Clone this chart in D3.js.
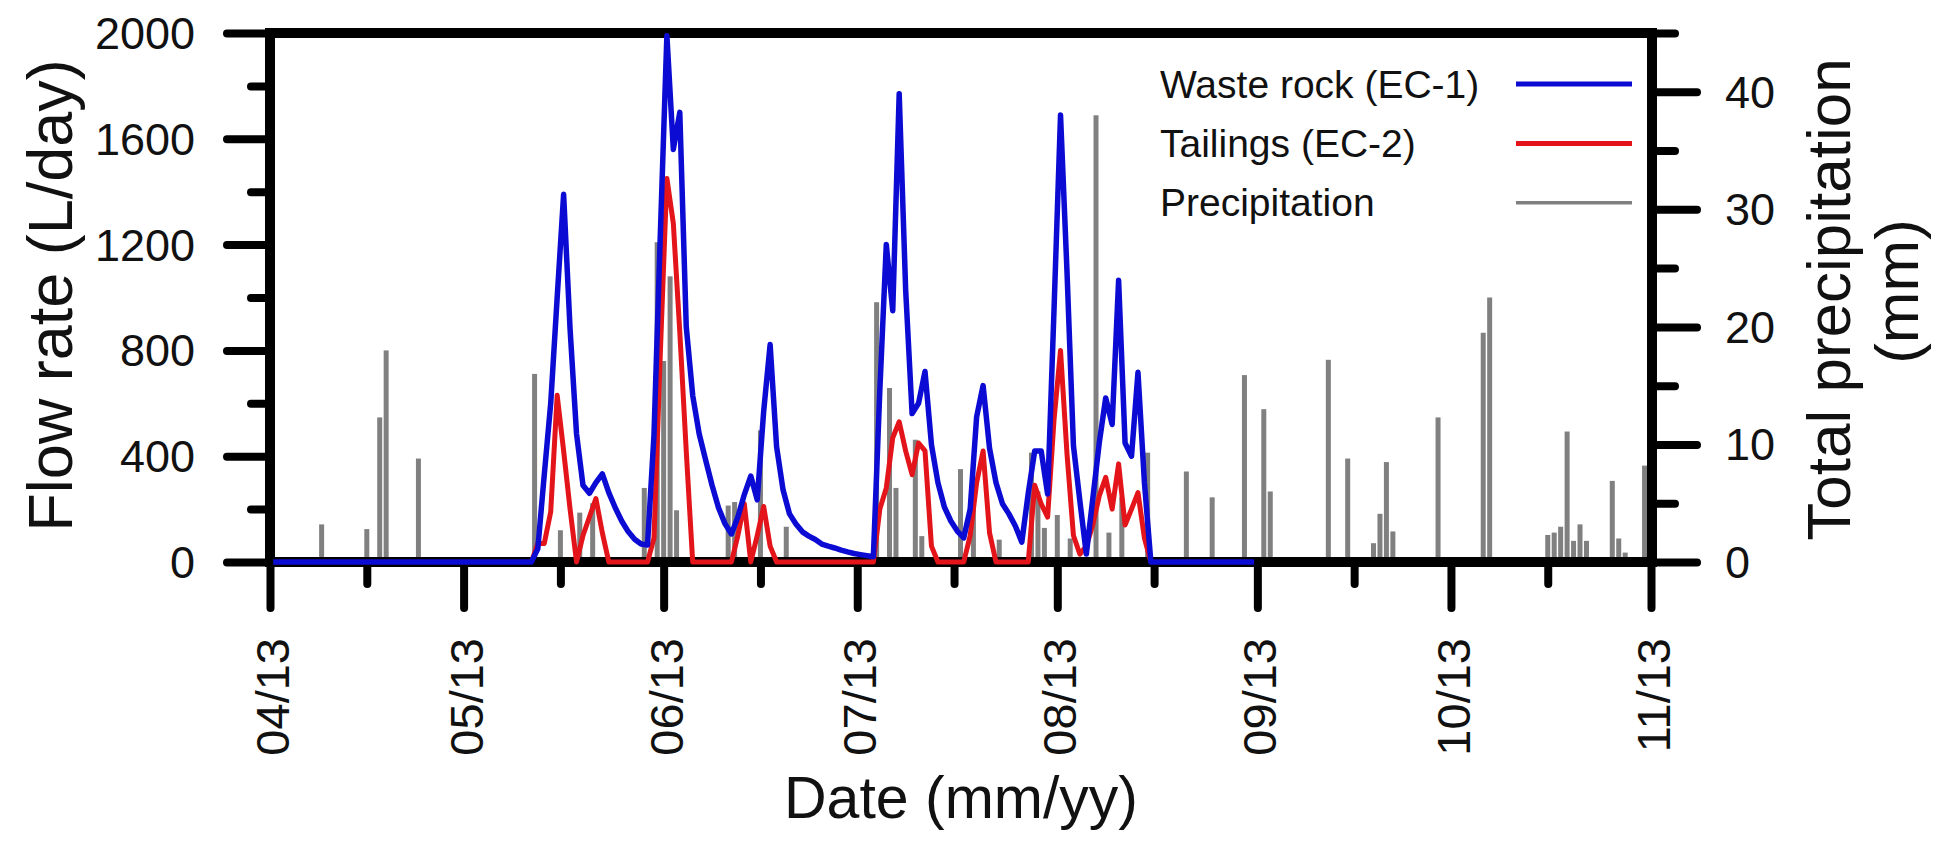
<!DOCTYPE html>
<html>
<head>
<meta charset="utf-8">
<script src="https://cdn.jsdelivr.net/npm/d3@7"></script>
<style>
  html, body { margin: 0; padding: 0; background: #fff; }
  svg { display: block; }
  text { font-family: "Liberation Sans", Arial, Helvetica, sans-serif; fill: #111; }
</style>
</head>
<body>
<svg id="chart" width="1950" height="844"></svg>
<script>
// ---- data -------------------------------------------------------------

// Daily total precipitation (mm)
const precipDates = [
  "2013-04-09","2013-04-14","2013-04-16","2013-04-18","2013-04-19","2013-04-24",
  "2013-05-12","2013-05-16","2013-05-19","2013-05-21","2013-05-29","2013-05-31",
  "2013-06-01","2013-06-02","2013-06-03","2013-06-11","2013-06-12","2013-06-16","2013-06-20",
  "2013-07-04","2013-07-06","2013-07-07","2013-07-10","2013-07-11","2013-07-17","2013-07-19",
  "2013-07-23","2013-07-28","2013-07-29","2013-07-30",
  "2013-08-01","2013-08-03","2013-08-07","2013-08-09","2013-08-11","2013-08-15","2013-08-21",
  "2013-08-25","2013-08-30",
  "2013-09-02","2013-09-03","2013-09-12","2013-09-15","2013-09-19","2013-09-20","2013-09-21",
  "2013-09-22","2013-09-29",
  "2013-10-06","2013-10-07","2013-10-16","2013-10-17","2013-10-18","2013-10-19","2013-10-20",
  "2013-10-21","2013-10-22","2013-10-26","2013-10-27","2013-10-28","2013-10-31"
];
const precipMm = [
  3.2, 0.3, 2.8, 12.3, 18.0, 8.8,
  16.0, 2.7, 4.2, 5.0, 6.3, 27.2,
  17.1, 24.3, 4.4, 4.8, 5.1, 11.2, 3.0,
  22.1, 14.8, 6.3, 10.4, 2.2, 7.9, 5.5,
  1.9, 9.3, 6.0, 2.9,
  4.0, 2.0, 38.0, 2.5, 5.5, 9.3, 7.7,
  5.5, 15.9,
  13.0, 6.0, 17.2, 8.8, 1.6, 4.1, 8.5,
  2.6, 12.3,
  19.5, 22.5, 2.3, 2.5, 3.0, 11.1, 1.8,
  3.2, 1.8, 6.9, 2.0, 0.8, 8.2
];

// Daily outflow, waste rock cell EC-1 (L/day)
const wasteRockFlow = [
  ["2013-04-01",0],["2013-05-11",0],["2013-05-12",50],["2013-05-13",330],["2013-05-14",600],
  ["2013-05-15",1000],["2013-05-16",1390],["2013-05-17",880],["2013-05-18",485],["2013-05-19",290],
  ["2013-05-20",260],["2013-05-21",300],["2013-05-22",333],["2013-05-23",262],["2013-05-24",205],
  ["2013-05-25",155],["2013-05-26",115],["2013-05-27",86],["2013-05-28",68],["2013-05-29",64],
  ["2013-05-30",480],["2013-05-31",1250],["2013-06-01",1990],["2013-06-02",1560],["2013-06-03",1700],
  ["2013-06-04",890],["2013-06-05",630],["2013-06-06",485],["2013-06-07",386],["2013-06-08",290],
  ["2013-06-09",205],["2013-06-10",145],["2013-06-11",106],["2013-06-12",170],["2013-06-13",255],
  ["2013-06-14",325],["2013-06-15",235],["2013-06-16",570],["2013-06-17",822],["2013-06-18",436],
  ["2013-06-19",273],["2013-06-20",182],["2013-06-21",144],["2013-06-22",114],["2013-06-23",98],
  ["2013-06-24",85],["2013-06-25",68],["2013-06-26",60],["2013-06-27",53],["2013-06-28",45],
  ["2013-06-29",38],["2013-06-30",32],["2013-07-01",28],["2013-07-02",24],["2013-07-03",20],
  ["2013-07-04",650],["2013-07-05",1200],["2013-07-06",950],["2013-07-07",1770],["2013-07-08",1030],
  ["2013-07-09",561],["2013-07-10",600],["2013-07-11",720],["2013-07-12",443],["2013-07-13",300],
  ["2013-07-14",208],["2013-07-15",155],["2013-07-16",117],["2013-07-17",91],["2013-07-18",200],
  ["2013-07-19",549],["2013-07-20",667],["2013-07-21",430],["2013-07-22",300],["2013-07-23",220],
  ["2013-07-24",182],["2013-07-25",136],["2013-07-26",75],["2013-07-27",260],["2013-07-28",420],
  ["2013-07-29",420],["2013-07-30",257],["2013-07-31",960],["2013-08-01",1690],["2013-08-02",1100],
  ["2013-08-03",440],["2013-08-04",230],["2013-08-05",30],["2013-08-06",240],["2013-08-07",450],
  ["2013-08-08",620],["2013-08-09",520],["2013-08-10",1065],["2013-08-11",450],["2013-08-12",400],
  ["2013-08-13",717],["2013-08-14",300],["2013-08-15",0],["2013-08-31",0]
];

// Daily outflow, tailings cell EC-2 (L/day)
const tailingsFlow = [
  ["2013-05-11",0],["2013-05-12",70],["2013-05-13",70],["2013-05-14",190],["2013-05-15",630],
  ["2013-05-16",420],["2013-05-17",200],["2013-05-18",0],["2013-05-19",100],["2013-05-20",170],
  ["2013-05-21",240],["2013-05-22",110],["2013-05-23",0],["2013-05-29",0],["2013-05-30",90],
  ["2013-05-31",800],["2013-06-01",1450],["2013-06-02",1280],["2013-06-03",870],["2013-06-04",420],
  ["2013-06-05",0],["2013-06-11",0],["2013-06-12",100],["2013-06-13",220],["2013-06-14",0],
  ["2013-06-15",100],["2013-06-16",210],["2013-06-17",60],["2013-06-18",0],["2013-07-03",0],
  ["2013-07-04",200],["2013-07-05",280],["2013-07-06",470],["2013-07-07",530],["2013-07-08",420],
  ["2013-07-09",330],["2013-07-10",450],["2013-07-11",420],["2013-07-12",60],["2013-07-13",0],
  ["2013-07-17",0],["2013-07-18",100],["2013-07-19",300],["2013-07-20",420],["2013-07-21",110],
  ["2013-07-22",0],["2013-07-27",0],["2013-07-28",290],["2013-07-29",220],["2013-07-30",170],
  ["2013-07-31",540],["2013-08-01",800],["2013-08-02",410],["2013-08-03",100],["2013-08-04",30],
  ["2013-08-05",60],["2013-08-06",140],["2013-08-07",250],["2013-08-08",320],["2013-08-09",200],
  ["2013-08-10",371],["2013-08-11",140],["2013-08-12",200],["2013-08-13",262],["2013-08-14",90],
  ["2013-08-15",0]
];

// Axis ticks
const monthTicks = ["2013-04-01","2013-05-01","2013-06-01","2013-07-01","2013-08-01",
                    "2013-09-01","2013-10-01","2013-11-01"];
const midMonthTicks = ["2013-04-16","2013-05-16","2013-06-16","2013-07-16","2013-08-16",
                       "2013-09-16","2013-10-16"];
const flowMajorTicks = [0, 400, 800, 1200, 1600, 2000];
const flowMinorTicks = [200, 600, 1000, 1400, 1800];
const precipMajorTicks = [0, 10, 20, 30, 40];
const precipMinorTicks = [5, 15, 25, 35, 45];

const legendItems = [
  { label: "Waste rock (EC-1)", color: "#0b0bd4", width: 5 },
  { label: "Tailings (EC-2)",   color: "#e3141a", width: 5 },
  { label: "Precipitation",     color: "#808080", width: 3.5 }
];

// ---- drawing ------------------------------------------------------------

const parse = d3.timeParse("%Y-%m-%d");
const svg = d3.select("#chart");

const plot = { left: 270, right: 1652, top: 33, bottom: 562 };

const x = d3.scaleTime()
  .domain([parse("2013-04-01"), parse("2013-11-01")])
  .range([plot.left, 1651]);
const yFlow = d3.scaleLinear().domain([0, 2000]).range([plot.bottom, plot.top]);
const yPrecip = d3.scaleLinear().domain([0, 45]).range([plot.bottom, plot.top]);

// readings are daily means, plotted at midday
const midday = s => d3.timeHour.offset(parse(s), 12);

// precipitation bars
const barW = 5;
svg.append("g")
  .selectAll("rect")
  .data(precipDates.map((d, i) => ({ date: parse(d), v: precipMm[i] })))
  .join("rect")
  .attr("x", d => x(d.date) - barW / 2)
  .attr("y", d => yPrecip(d.v))
  .attr("width", barW)
  .attr("height", d => yPrecip(0) - yPrecip(d.v))
  .attr("fill", "#808080");

// axes: ticks only, frame drawn separately
function styleTicks(g) {
  g.select(".domain").remove();
  g.selectAll(".tick line")
    .attr("stroke", "#000")
    .attr("stroke-width", 8)
    .attr("stroke-linecap", "round");
  g.selectAll(".tick text").remove();
}

svg.append("g").attr("transform", `translate(0,${plot.bottom})`)
  .call(d3.axisBottom(x).tickValues(monthTicks.map(parse)).tickSize(46).tickFormat(""))
  .call(styleTicks);
svg.append("g").attr("transform", `translate(0,${plot.bottom})`)
  .call(d3.axisBottom(x).tickValues(midMonthTicks.map(parse)).tickSize(22).tickFormat(""))
  .call(styleTicks);

svg.append("g").attr("transform", `translate(${plot.left},0)`)
  .call(d3.axisLeft(yFlow).tickValues(flowMajorTicks).tickSize(43).tickFormat(""))
  .call(styleTicks);
svg.append("g").attr("transform", `translate(${plot.left},0)`)
  .call(d3.axisLeft(yFlow).tickValues(flowMinorTicks).tickSize(19).tickFormat(""))
  .call(styleTicks);

svg.append("g").attr("transform", `translate(${plot.right},0)`)
  .call(d3.axisRight(yPrecip).tickValues(precipMajorTicks).tickSize(45).tickFormat(""))
  .call(styleTicks);
svg.append("g").attr("transform", `translate(${plot.right},0)`)
  .call(d3.axisRight(yPrecip).tickValues(precipMinorTicks).tickSize(23).tickFormat(""))
  .call(styleTicks);

// frame
svg.append("rect")
  .attr("x", plot.left).attr("y", plot.top)
  .attr("width", plot.right - plot.left).attr("height", plot.bottom - plot.top)
  .attr("fill", "none").attr("stroke", "#000").attr("stroke-width", 10);

// flow lines
const line = d3.line()
  .x(d => x(midday(d[0])))
  .y(d => yFlow(d[1]))
  .curve(d3.curveLinear);

svg.append("path").datum(tailingsFlow)
  .attr("d", line).attr("fill", "none")
  .attr("stroke", legendItems[1].color).attr("stroke-width", 5)
  .attr("stroke-linejoin", "round");

svg.append("path").datum(wasteRockFlow)
  .attr("d", line).attr("fill", "none")
  .attr("stroke", legendItems[0].color).attr("stroke-width", 5.5)
  .attr("stroke-linejoin", "round");

// tick labels
const fmtMonth = d3.timeFormat("%m/%y");
svg.append("g").selectAll("text")
  .data(monthTicks.map(parse))
  .join("text")
  .attr("transform", d => `translate(${x(d) + 19},638) rotate(-90)`)
  .attr("text-anchor", "end")
  .attr("font-size", 47)
  .text(d => fmtMonth(d));

svg.append("g").selectAll("text")
  .data(flowMajorTicks)
  .join("text")
  .attr("x", 195)
  .attr("y", d => yFlow(d) + 16)
  .attr("text-anchor", "end")
  .attr("font-size", 45)
  .text(d => d);

svg.append("g").selectAll("text")
  .data(precipMajorTicks)
  .join("text")
  .attr("x", 1725)
  .attr("y", d => yPrecip(d) + 16)
  .attr("text-anchor", "start")
  .attr("font-size", 45)
  .text(d => d);

// axis titles
svg.append("text")
  .attr("transform", `translate(72,${(plot.top + plot.bottom) / 2 - 2}) rotate(-90)`)
  .attr("text-anchor", "middle")
  .attr("font-size", 63)
  .text("Flow rate (L/day)");

svg.append("text")
  .attr("x", (plot.left + plot.right) / 2)
  .attr("y", 818)
  .attr("text-anchor", "middle")
  .attr("font-size", 59)
  .text("Date (mm/yy)");

svg.append("text")
  .attr("transform", `translate(1850,${(plot.top + plot.bottom) / 2 + 2}) rotate(-90)`)
  .attr("text-anchor", "middle")
  .attr("font-size", 62)
  .text("Total precipitation");
svg.append("text")
  .attr("transform", `translate(1918,${(plot.top + plot.bottom) / 2 - 6}) rotate(-90)`)
  .attr("text-anchor", "middle")
  .attr("font-size", 62)
  .text("(mm)");

// legend
const legend = svg.append("g");
legendItems.forEach((it, i) => {
  const base = 97.6 + i * 59.3;
  legend.append("text")
    .attr("x", 1160).attr("y", base)
    .attr("font-size", 39)
    .text(it.label);
  legend.append("line")
    .attr("x1", 1516).attr("x2", 1632)
    .attr("y1", base - 13.5).attr("y2", base - 13.5)
    .attr("stroke", it.color).attr("stroke-width", it.width);
});
</script>
</body>
</html>
